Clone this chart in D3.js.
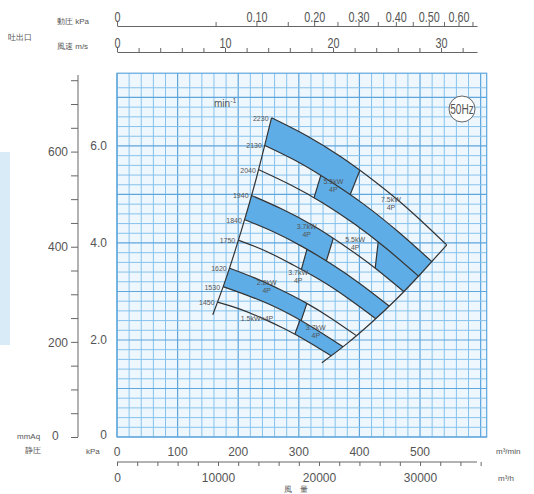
<!DOCTYPE html>
<html><head><meta charset="utf-8">
<script src="https://cdn.jsdelivr.net/npm/d3@7"></script>
<style>
body{margin:0;background:#fff}
svg{display:block}
text{font-family:"Liberation Sans",Arial,sans-serif;fill:#555}
</style>
</head><body>
<svg id="c" width="534" height="494"></svg>
<script>
// ---------- data ----------
const flowTicks = [0,100,200,300,400,500];                 // m³/min
const flowHourTicks = [0,10000,20000,30000];               // m³/h
const kpaTicks = [0,2.0,4.0,6.0];                          // static pressure kPa
const mmaqTicks = [0,200,400,600];                         // mmAq
const velTicks = [0,10,20,30];                             // outlet velocity m/s
const pdTicks = [0,0.10,0.20,0.30,0.40,0.50,0.60];         // dynamic pressure kPa
const speeds = [2230,2130,2040,1940,1840,1750,1620,1530,1450]; // min-1
const curveQ = [
  [255,313,370,428,486,544],
  [244,299,353,409,464,520],
  [234,286,339,392,445,498],
  [222,272,322,372,423,473],
  [211,258,305,353,401,449],
  [200,246,290,336,381,427],
  [186,227,269,311,353,395],
  [175,215,254,294,333,373],
  [166,204,241,278,316,354]
];
const curveP = [
  [6.58,6.21,5.77,5.24,4.64,3.96],
  [6.01,5.67,5.26,4.78,4.23,3.61],
  [5.51,5.20,4.83,4.39,3.88,3.31],
  [4.98,4.70,4.37,3.97,3.51,3.00],
  [4.48,4.23,3.93,3.57,3.16,2.70],
  [4.06,3.83,3.55,3.23,2.86,2.44],
  [3.48,3.28,3.04,2.77,2.45,2.09],
  [3.10,2.92,2.72,2.47,2.18,1.86],
  [2.78,2.63,2.44,2.22,1.96,1.67]
];
const leftLimitQ = [158,180,205,230,255];
const leftLimitP = [2.52,3.27,4.25,5.34,6.58];
const rightLimitQ = [338,380,420,460,500,544];
const rightLimitP = [1.53,1.93,2.36,2.83,3.35,3.96];
// motor zones (blue): upper curve index, lower curve index,
// start / end divider given as [Q top, P top, Q bottom, P bottom] (null = limit line)
const zoneUpper = [0,1,3,4,2,6,7];
const zoneLower = [1,2,4,5,3,7,8];
const zoneFrom  = [null,[335,5.34,328,5.05],null,[315,3.94,309,3.67],[431,4.02,426,3.48],null,[302,2.41,294,2.14]];
const zoneTo    = [[403,5.57,389,5.13],null,[361,4.27,353,3.94],null,null,[315,2.82,307,2.52],null];
// motor labels
const motorText = ["5.5kW\n4P","7.5kW\n4P","3.7kW\n4P","5.5kW\n4P","2.2kW\n4P","3.7kW\n4P","1.5kW×4P","3.7kW\n4P"];
const motorQ = [357,452,313,393,247,299,231,328];
const motorP = [5.22,4.84,4.28,4.03,3.14,3.35,2.40,2.21];

// ---------- scales ----------
const svg = d3.select("#c");
const x = d3.scaleLinear().domain([0,610]).range([117,486.7]);
const y = d3.scaleLinear().domain([0,7.5]).range([437,73.2]);
const yMm = d3.scaleLinear().domain([0,7500/9.80665]).range([437,73.2]);
const xVel = d3.scaleLinear().domain([0,33.33]).range([117,477]);
const xPd = d3.scaleSqrt().domain([0,0.6667]).range([117,477]);
const xHour = d3.scaleLinear().domain([0,610*60]).range([117,486.7]);

// decoration strip at left
svg.append("rect").attr("x",0).attr("y",152).attr("width",10).attr("height",193).attr("fill","#d9ebf7");

// ---------- grid ----------
const g = svg.append("g");
g.append("rect").attr("x",x(0)).attr("y",y(7.5)).attr("width",x(610)-x(0)).attr("height",y(0)-y(7.5)).attr("fill","#eef7fd");
const vLines = d3.range(0,611,20);
const hLines = d3.range(0,37).map(i=>i*0.2);
g.selectAll(".vl").data(vLines).join("line")
  .attr("x1",d=>x(d)).attr("x2",d=>x(d)).attr("y1",y(0)).attr("y2",y(7.5))
  .attr("stroke",d=>d%100===0?"#5ea6dc":"#86c2ec").attr("stroke-width",d=>d%100===0?1.2:1);
g.selectAll(".hl").data(hLines).join("line")
  .attr("y1",d=>y(d)).attr("y2",d=>y(d)).attr("x1",x(0)).attr("x2",x(610))
  .attr("stroke",(d,i)=>i%5===0?"#5ea6dc":"#86c2ec").attr("stroke-width",(d,i)=>i%5===0?1.2:1);
g.append("rect").attr("x",x(0)).attr("y",y(7.5)).attr("width",x(610)-x(0)).attr("height",y(0)-y(7.5)).attr("fill","none").attr("stroke","#5ea6dc").attr("stroke-width",1.2);

// ---------- curves ----------
const line = d3.line().x(d=>x(d[0])).y(d=>y(d[1])).curve(d3.curveNatural);
const pts = i => curveQ[i].map((q,k)=>[q,curveP[i][k]]);
const defs = svg.append("defs");
const Y0 = 60, Y1 = 460;
function divX(dv, Y, fallback){
  if(!dv) return fallback;
  const X1=x(dv[0]), Yа=y(dv[1]), X2=x(dv[2]), Yb=y(dv[3]);
  return X1 + (Y-Yа)*(X2-X1)/(Yb-Yа);
}
zoneUpper.forEach((u,i)=>{
  const up = pts(u), lo = pts(zoneLower[i]).slice().reverse();
  const d = line(up) + "L" + line(lo).slice(1) + "Z";
  defs.append("clipPath").attr("id","z"+i).append("path").attr("d",d);
  const zg = svg.append("g").attr("clip-path","url(#z"+i+")");
  const poly = [[divX(zoneFrom[i],Y0,0),Y0],[divX(zoneTo[i],Y0,534),Y0],[divX(zoneTo[i],Y1,534),Y1],[divX(zoneFrom[i],Y1,0),Y1]];
  zg.append("path").attr("d","M"+poly.join("L")+"Z").attr("fill","#5eade6");
  [zoneFrom[i],zoneTo[i]].forEach(dv=>{
    if(!dv) return;
    zg.append("line").attr("x1",divX(dv,Y0)).attr("x2",divX(dv,Y1)).attr("y1",Y0).attr("y2",Y1)
      .attr("stroke","#333").attr("stroke-width",1.2);
  });
});
speeds.forEach((s,i)=>{
  svg.append("path").attr("d",line(pts(i))).attr("fill","none").attr("stroke","#333").attr("stroke-width",1.2);
  svg.append("text").attr("x",x(curveQ[i][0])-3).attr("y",y(curveP[i][0])+3)
    .attr("text-anchor","end").attr("font-size",7).text(s);
});
svg.append("path").attr("d",line(leftLimitQ.map((q,k)=>[q,leftLimitP[k]]))).attr("fill","none").attr("stroke","#333").attr("stroke-width",1.2);
svg.append("path").attr("d",line(rightLimitQ.map((q,k)=>[q,rightLimitP[k]]))).attr("fill","none").attr("stroke","#333").attr("stroke-width",1.2);

motorText.forEach((t,i)=>{
  const tx = svg.append("text").attr("x",x(motorQ[i])).attr("y",y(motorP[i])).attr("text-anchor","middle").attr("font-size",7).attr("fill","#444");
  t.split("\n").forEach((s,k)=>tx.append("tspan").attr("x",x(motorQ[i])).attr("dy",k?8:0).text(s));
});
svg.append("text").attr("x",214).attr("y",107).attr("font-size",10).attr("fill","#333").text("min").append("tspan").attr("dy",-4).attr("font-size",7).text("-1");
svg.append("circle").attr("cx",462).attr("cy",109).attr("r",13).attr("fill","#fff").attr("stroke","#666").attr("stroke-width",1);
svg.append("text").attr("transform","translate(462,114) scale(0.72,1)").attr("text-anchor","middle").attr("font-size",14).attr("fill","#333").text("50Hz");

// ---------- axes ----------
function style(sel){ sel.selectAll("path,line").attr("stroke","#666"); sel.selectAll("text").attr("fill","#555"); }
// left mmAq
const aMm = svg.append("g").attr("transform","translate(78,0)")
  .call(d3.axisLeft(yMm).tickValues(d3.range(0,751,50)).tickSize(7).tickSizeOuter(0)
    .tickFormat(d=>mmaqTicks.includes(d)&&d>0?d:"")).call(style);
aMm.selectAll("text").attr("font-size",12).attr("dy","0.35em");
aMm.select(".domain").attr("d","M0,"+yMm(0)+"V75");
// kPa labels
svg.selectAll(".kpa").data(kpaTicks).join("text").attr("x",107).attr("y",d=>y(d)+(d===0?2:4))
  .attr("text-anchor","end").attr("font-size",12).text(d=>d===0?"0":d.toFixed(1));
// top axes
const aPd = svg.append("g").attr("transform","translate(0,26)")
  .call(d3.axisTop(xPd).tickValues(d3.range(0,0.66,0.05).map(v=>+v.toFixed(2))).tickSize(4).tickSizeOuter(0)
    .tickFormat(d=>pdTicks.some(p=>Math.abs(p-d)<1e-6)?(d===0?"0":d.toFixed(2)):"")).call(style);
aPd.selectAll("text").attr("font-size",15).attr("dy","0.2em").attr("transform","scale(0.72,1)");
const aVel = svg.append("g").attr("transform","translate(0,52)")
  .call(d3.axisTop(xVel).tickValues(d3.range(0,34,2)).tickSize(4).tickSizeOuter(0)
    .tickFormat(d=>velTicks.includes(d)?d:"")).call(style);
aVel.selectAll("text").attr("font-size",15).attr("dy","0.2em").attr("transform","scale(0.72,1)");
svg.append("text").attr("x",57).attr("y",24).attr("font-size",8).text("動圧  kPa");
svg.append("text").attr("x",57).attr("y",49).attr("font-size",8).text("風速  m/s");
svg.append("text").attr("x",8).attr("y",40).attr("font-size",8).text("吐出口");
// bottom flow labels
svg.selectAll(".fl").data(flowTicks).join("text").attr("x",d=>x(d)).attr("y",456)
  .attr("text-anchor","middle").attr("font-size",12).text(d=>d);
const aH = svg.append("g").attr("transform","translate(0,462)")
  .call(d3.axisBottom(xHour).tickValues(d3.range(0,36001,2000)).tickSize(4).tickSizeOuter(0)
    .tickFormat(d=>flowHourTicks.includes(d)?d:"")).call(style);
aH.selectAll("text").attr("font-size",12).attr("dy","1.1em");
aH.select(".domain").attr("d","M"+x(0)+",0H477");
svg.append("text").attr("x",496).attr("y",454).attr("font-size",8).text("m³/min");
svg.append("text").attr("x",498).attr("y",481).attr("font-size",8).text("m³/h");
svg.append("text").attr("x",296).attr("y",492).attr("text-anchor","middle").attr("font-size",8).text("風　量");
svg.append("text").attr("x",17).attr("y",439).attr("font-size",8).text("mmAq");
svg.append("text").attr("x",25).attr("y",453).attr("font-size",8).text("静圧");
svg.append("text").attr("x",86).attr("y",454).attr("font-size",8).text("kPa");
svg.append("text").attr("x",52).attr("y",440).attr("font-size",12).text("0");
</script>
</body></html>
